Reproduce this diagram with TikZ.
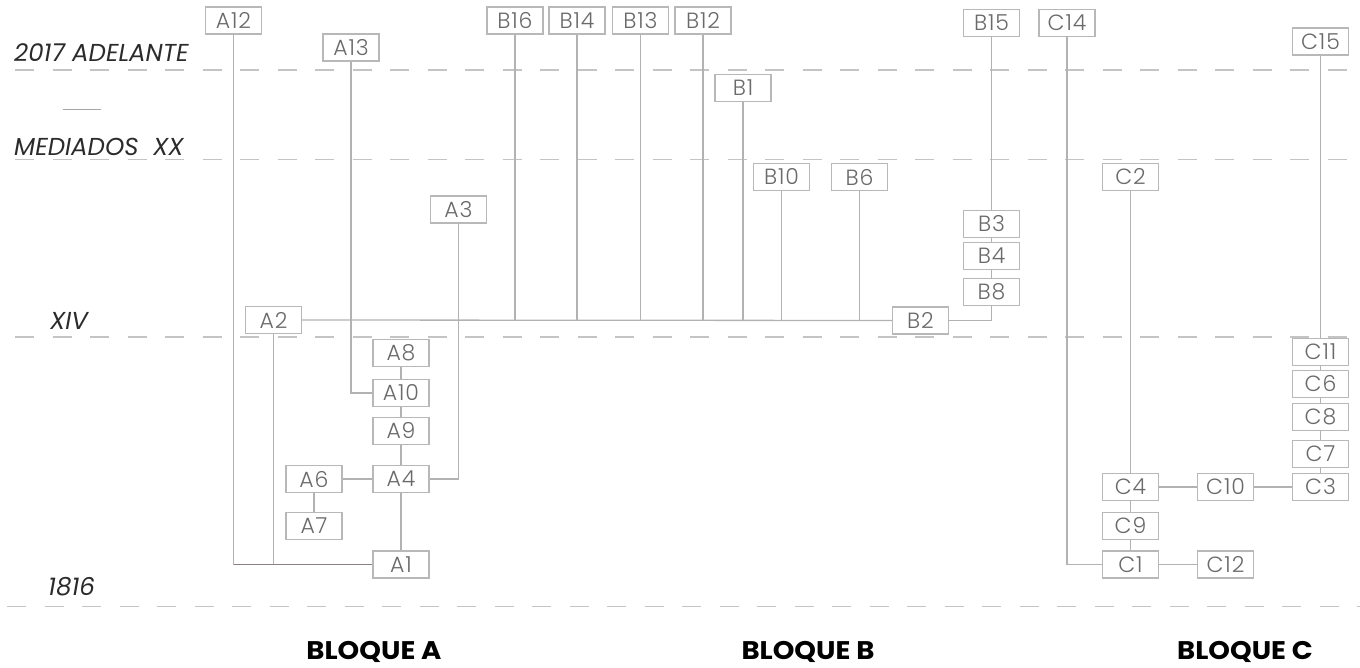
\documentclass[tikz,border=0pt]{standalone}
\usepackage{fontspec}
\setmainfont{Poppins}
\newfontfamily\boxfont{Poppins Light}[LetterSpace=4]
\definecolor{linegray}{HTML}{B2B2B2}
\definecolor{boxgray}{HTML}{B8B8B8}
\definecolor{dashgray}{HTML}{C4C4C4}
\definecolor{txtgray}{HTML}{6A6A6A}
\definecolor{lblgray}{HTML}{2B2B2B}
\definecolor{darkline}{HTML}{8A8080}
\tikzset{
  box/.style={draw=boxgray, line width=1.2pt, fill=white, minimum width=56pt, minimum height=27pt, inner sep=0pt,
    text=txtgray, font=\boxfont\fontsize{22}{22}\selectfont},
  conn/.style={draw=linegray, line width=1.3pt},
  darkconn/.style={draw=darkline, line width=1.5pt},
  period/.style={draw=dashgray, line width=1.8pt, dash pattern=on 19pt off 18.5pt},
  lbl/.style={anchor=west, inner sep=0pt, text=lblgray, font=\fontsize{24.5}{24.5}\selectfont\itshape},
  bloque/.style={inner sep=0pt, text=black, font=\fontsize{25.5}{25.5}\selectfont\bfseries}
}
\begin{document}
\begin{tikzpicture}[x=1pt,y=-1pt]
\useasboundingbox (0,0) rectangle (1360,668);
% period lines
\coordinate (p1s) at (15,70);   \coordinate (p1e) at (1360,70);
\coordinate (p2s) at (15,159.5);\coordinate (p2e) at (1360,159.5);
\coordinate (p3s) at (15,337);  \coordinate (p3e) at (1360,337);
\coordinate (p4s) at (7,606.5); \coordinate (p4e) at (1360,606.5);
\draw[period] (p1s) -- (p1e);
\draw[period] (p2s) -- (p2e);
\draw[period] (p3s) -- (p3e);
\draw[period] (p4s) -- (p4e);
% left labels
\node[lbl] (l1) at (14,53) {2017 ADELANTE};
\coordinate (d1) at (63,110); \coordinate (d2) at (101,110);
\draw[draw=gray!70, line width=1pt] (d1) -- (d2);
\node[lbl] (l2) at (14,147) {MEDIADOS\ \ XX};
\node[lbl] (l3) at (50,321) {XIV};
\node[lbl] (l4) at (48,586.5) {1816};
% bloque labels
\node[bloque] (bA) at (374,652) {\scalebox{1.08}[1]{BLOQUE A}};
\node[bloque] (bB) at (808,652) {\scalebox{1.08}[1]{BLOQUE B}};
\node[bloque] (bC) at (1245,652) {\scalebox{1.08}[1]{BLOQUE C}};
% ---------------- Bloque A
\node[box] (A12) at (233.5,20.5) {A12};
\node[box] (A13) at (351,47.5) {A13};
\node[box] (A3) at (458.5,209.5) {A3};
\node[box] (A2) at (273.5,320) {A2};
\node[box] (A8) at (401,353) {A8};
\node[box] (A10) at (401,393) {A10};
\node[box] (A9) at (401,431) {A9};
\node[box] (A4) at (401,479) {A4};
\node[box] (A6) at (314,479) {A6};
\node[box] (A7) at (314,526) {A7};
\node[box] (A1) at (401,564.5) {A1};
% ---------------- Bloque B
\node[box] (B16) at (515,20.5) {B16};
\node[box] (B14) at (577,20.5) {B14};
\node[box] (B13) at (640.5,20.5) {B13};
\node[box] (B12) at (703,20.5) {B12};
\node[box] (B1) at (743,88) {B1};
\node[box] (B10) at (781.5,177) {B10};
\node[box] (B6) at (859.5,177) {B6};
\node[box] (B15) at (991.5,23) {B15};
\node[box] (B3) at (991.5,224) {B3};
\node[box] (B4) at (991.5,256) {B4};
\node[box] (B8) at (991.5,292) {B8};
\node[box] (B2) at (920.5,320.5) {B2};
% ---------------- Bloque C
\node[box] (C14) at (1067,23) {C14};
\node[box] (C15) at (1320.5,41.5) {C15};
\node[box] (C2) at (1130.5,177) {C2};
\node[box] (C11) at (1320.5,351.7) {C11};
\node[box] (C6) at (1320.5,384) {C6};
\node[box] (C8) at (1320.5,417) {C8};
\node[box] (C7) at (1320.5,454) {C7};
\node[box] (C3) at (1320.5,487) {C3};
\node[box] (C4) at (1130.5,487) {C4};
\node[box] (C10) at (1225.5,487) {C10};
\node[box] (C9) at (1130.5,526) {C9};
\node[box] (C1) at (1130.5,564.5) {C1};
\node[box] (C12) at (1225.5,564.5) {C12};
% ---------------- connectors
\coordinate (cA) at (A12.south |- A1.west);
\coordinate (cA2) at (A2.south |- A1.west);
\draw[conn] (A12.south) -- (cA);
\draw[conn] (A2.south) -- (cA2);
\draw[darkconn] (cA) -- (A1.west);
\draw[conn] (A2.east) -- (B2.west);
\draw[conn] (A13.south) |- (A10.west);
\draw[conn] (A3.south) |- (A4.east);
\draw[conn] (A8) -- (A10);
\draw[conn] (A10) -- (A9);
\draw[conn] (A9) -- (A4);
\draw[conn] (A4) -- (A1);
\draw[conn] (A6) -- (A4);
\draw[conn] (A6) -- (A7);
\foreach \n in {B16,B14,B13,B12,B1,B10,B6}{
  \draw[conn] (\n.south) -- (\n.south |- A2.east);
}
\draw[conn] (B15) -- (B3);
\draw[conn] (B3) -- (B4);
\draw[conn] (B4) -- (B8);
\draw[conn] (B8.south) |- (B2.east);
\draw[conn] (C14.south) |- (C1.west);
\draw[conn] (C2) -- (C4);
\draw[conn] (C4) -- (C9);
\draw[conn] (C9) -- (C1);
\draw[conn] (C1) -- (C12);
\draw[conn] (C4) -- (C10);
\draw[conn] (C10) -- (C3);
\draw[conn] (C15) -- (C11);
\draw[conn] (C11) -- (C6);
\draw[conn] (C6) -- (C8);
\draw[conn] (C8) -- (C7);
\draw[conn] (C7) -- (C3);
\end{tikzpicture}
\end{document}
